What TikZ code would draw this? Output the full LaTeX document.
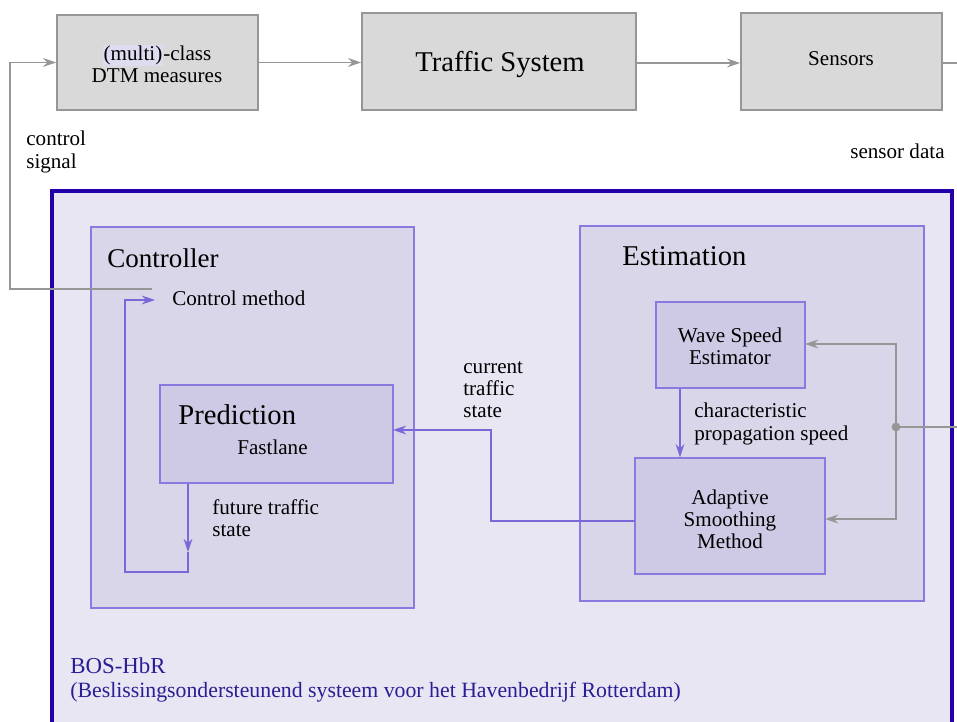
\documentclass[tikz,border=0pt]{standalone}
\usepackage{fontspec}
\setmainfont{Liberation Serif}
\usetikzlibrary{arrows.meta,calc}
\definecolor{topfill}{RGB}{217,217,217}
\definecolor{topdraw}{RGB}{150,150,150}
\definecolor{outfill}{RGB}{232,230,242}
\definecolor{outdraw}{RGB}{34,0,170}
\definecolor{midfill}{RGB}{218,214,234}
\definecolor{middraw}{RGB}{136,122,222}
\definecolor{innfill}{RGB}{206,201,228}
\definecolor{pline}{RGB}{122,104,216}
\definecolor{gline}{RGB}{150,150,150}
\definecolor{btext}{RGB}{40,30,150}
\definecolor{hilite}{RGB}{222,220,240}
\tikzset{
  topbox/.style={draw=topdraw, fill=topfill, line width=0.9pt, rectangle, inner sep=0pt},
  midbox/.style={draw=middraw, fill=midfill, line width=0.8pt, rectangle, inner sep=0pt},
  innbox/.style={draw=middraw, fill=innfill, line width=0.8pt, rectangle, inner sep=0pt},
  garrow/.style={draw=gline, line width=0.8pt, -{Stealth[length=7.5pt,width=5pt,inset=2.4pt]}},
  gline/.style={draw=gline, line width=0.8pt},
  parrow/.style={draw=pline, line width=0.8pt, -{Stealth[length=7.5pt,width=5pt,inset=2.4pt]}},
  pline/.style={draw=pline, line width=0.8pt},
  small/.style={font=\fontsize{12}{12.6}\selectfont, inner sep=0pt, align=left},
  smallc/.style={font=\fontsize{12}{12.6}\selectfont, inner sep=0pt, align=center},
  big/.style={font=\fontsize{16.3}{18}\selectfont, inner sep=0pt},
}
\begin{document}
\begin{tikzpicture}[x=0.02cm,y=-0.02cm]
\clip (0,0) rectangle (957,722);
\fill[white] (0,0) rectangle (957,722);

% top row
\node[topbox, minimum width=201*0.02cm, minimum height=95*0.02cm] (dtm) at (157.5,62.5) {};
\node[smallc] at (157,64) {\setlength{\fboxsep}{0.6pt}\colorbox{hilite}{(multi)}-class\\DTM measures};
\node[topbox, minimum width=274*0.02cm, minimum height=97*0.02cm] (ts) at (499,61.5) {};
\node[big] at (500,65) {Traffic System};
\node[topbox, minimum width=201*0.02cm, minimum height=97*0.02cm] (sens) at (841.5,61.5) {};
\node[small] at (841,59) {Sensors};

\node[small, anchor=west] (cs) at (26,152) {control\\signal};
\node[small, anchor=west] (sd) at (850,151) {sensor data};

% outer BOS box
\draw[draw=outdraw, fill=outfill, line width=2.3pt] (52,191) rectangle (952,760);

% controller
\node[midbox, minimum width=323*0.02cm, minimum height=381*0.02cm] (ctrl) at (252.5,417.5) {};
\node[font=\fontsize{15.4}{17}\selectfont, inner sep=0pt, anchor=west] at (107,258) {Controller};
\node[small, anchor=west] (cm) at (172,298) {Control method};
\node[innbox, minimum width=233*0.02cm, minimum height=98*0.02cm] (pred) at (276.5,434) {};
\node[big, anchor=west] at (178,415) {Prediction};
\node[small, anchor=west] at (237,447) {Fastlane};
\node[small, anchor=west] at (212,518) {future traffic\\state};

% estimation
\node[midbox, minimum width=344*0.02cm, minimum height=375*0.02cm] (est) at (752,413.5) {};
\node[big, anchor=west] at (622,256) {Estimation};
\node[innbox, minimum width=149*0.02cm, minimum height=86*0.02cm] (wse) at (730.5,345) {};
\node[smallc] at (730,346) {Wave Speed\\Estimator};
\node[innbox, minimum width=190*0.02cm, minimum height=116*0.02cm] (asm) at (730,516) {};
\node[smallc] at (730,519) {Adaptive\\Smoothing\\Method};
\node[small, anchor=west] at (694,424) {characteristic\\propagation speed};
\node[small, anchor=west] at (463,390) {current\\traffic\\state};

% BOS label
\node[font=\fontsize{13}{15}\selectfont, text=btext, inner sep=0pt, anchor=west] at (70,666) {BOS-HbR};
\node[font=\fontsize{12.4}{14}\selectfont, text=btext, inner sep=0pt, anchor=west] at (70,692) {(Beslissingsondersteunend systeem voor het Havenbedrijf Rotterdam)};

% coordinates
\coordinate (edgeR) at (962,0);
\coordinate (cl) at (10,0);
\coordinate (cmIn) at (152,289);
\coordinate (wx) at (680,0);
\coordinate (ctsx) at (491,0);
\coordinate (lpm) at (188,552);
\coordinate (lp1) at (188,572);
\coordinate (lp2) at (125,300);
\coordinate (cmArr) at (155,300);
\coordinate (wseIn) at (805,344);
\coordinate (asmIn) at (825,519);
\coordinate (asmOut) at (635,521);
\coordinate (predIn) at (393,430);

% top connectors
\draw[garrow] (dtm.east) -- (dtm.east -| ts.west);
\draw[garrow] (ts.east |- 0,63) -- (sens.west |- 0,63);
\draw[gline] (sens.east |- 0,63) -- (edgeR |- 0,63);
\draw[garrow] (cmIn) -| (cl |- dtm.west) -- (dtm.west);

% sensor data into estimation
\node[circle, fill=gline, inner sep=0pt, minimum size=5pt] (dot) at (896,427) {};
\draw[gline] (edgeR |- dot) -- (dot.center);
\draw[garrow] (dot.center) |- (wseIn);
\draw[garrow] (dot.center) |- (asmIn);

% purple connectors
\draw[parrow] (wse.south -| wx) -- (asm.north -| wx);
\draw[parrow] (asmOut) -| (ctsx |- predIn) -- (predIn);
\draw[parrow] (pred.south -| lpm) -- (lpm);
\draw[parrow] (lpm) -- (lp1) -| (lp2) -- (cmArr);
\end{tikzpicture}
\end{document}
